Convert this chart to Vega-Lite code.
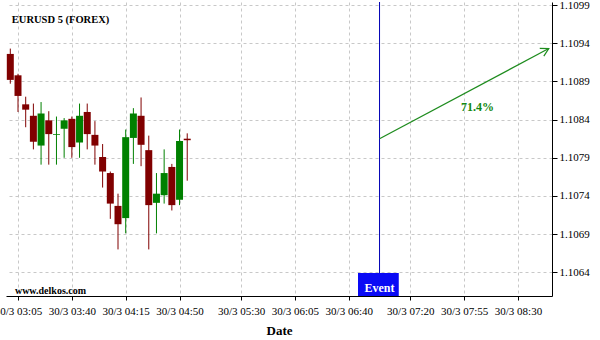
{
  "$schema": "https://vega.github.io/schema/vega-lite/v6.json",
  "width": 546,
  "height": 294,
  "autosize": {"type": "none"},
  "padding": {"left": 6, "top": 2, "right": 48, "bottom": 44},
  "background": "white",
  "config": {"view": {"stroke": null}, "font": "Liberation Serif"},
  "datasets": {
    "candles": [
      {"t": 180, "open": 1.10926, "high": 1.10933, "low": 1.10887, "close": 1.10892},
      {"t": 185, "open": 1.10898, "high": 1.10900, "low": 1.10850, "close": 1.10871},
      {"t": 190, "open": 1.10860, "high": 1.10870, "low": 1.10830, "close": 1.10853},
      {"t": 195, "open": 1.10845, "high": 1.10861, "low": 1.10801, "close": 1.10811},
      {"t": 200, "open": 1.10806, "high": 1.10863, "low": 1.10781, "close": 1.10848},
      {"t": 205, "open": 1.10839, "high": 1.10851, "low": 1.10781, "close": 1.10821},
      {"t": 210, "open": 1.10820, "high": 1.10844, "low": 1.10781, "close": 1.10821},
      {"t": 215, "open": 1.10828, "high": 1.10842, "low": 1.10790, "close": 1.10839},
      {"t": 220, "open": 1.10841, "high": 1.10844, "low": 1.10790, "close": 1.10804},
      {"t": 225, "open": 1.10810, "high": 1.10861, "low": 1.10790, "close": 1.10845},
      {"t": 230, "open": 1.10850, "high": 1.10861, "low": 1.10801, "close": 1.10821},
      {"t": 235, "open": 1.10820, "high": 1.10838, "low": 1.10781, "close": 1.10806},
      {"t": 240, "open": 1.10791, "high": 1.10808, "low": 1.10751, "close": 1.10772},
      {"t": 245, "open": 1.10770, "high": 1.10772, "low": 1.10710, "close": 1.10730},
      {"t": 250, "open": 1.10727, "high": 1.10743, "low": 1.10670, "close": 1.10703},
      {"t": 255, "open": 1.10711, "high": 1.10827, "low": 1.10691, "close": 1.10817},
      {"t": 260, "open": 1.10816, "high": 1.10855, "low": 1.10782, "close": 1.10848},
      {"t": 265, "open": 1.10845, "high": 1.10869, "low": 1.10779, "close": 1.10807},
      {"t": 270, "open": 1.10800, "high": 1.10819, "low": 1.10670, "close": 1.10728},
      {"t": 275, "open": 1.10731, "high": 1.10770, "low": 1.10691, "close": 1.10743},
      {"t": 280, "open": 1.10741, "high": 1.10801, "low": 1.10730, "close": 1.10770},
      {"t": 285, "open": 1.10778, "high": 1.10782, "low": 1.10721, "close": 1.10728},
      {"t": 290, "open": 1.10735, "high": 1.10827, "low": 1.10728, "close": 1.10812},
      {"t": 295, "open": 1.10815, "high": 1.10822, "low": 1.10760, "close": 1.10813}
    ],
    "event": [{"t": 420, "x1": 406, "x2": 432.5, "yb": 1.10609, "yt": 1.10639, "ym": 1.10619, "label": "Event"}],
    "arrow": [{"t1": 420, "p1": 1.10815, "t2": 530, "p2": 1.10933, "lt": 483.7, "lp": 1.10856, "label": "71.4%"}],
    "notes": [
      {"t": 181, "p": 1.10966, "label": "EURUSD 5 (FOREX)", "size": "big"},
      {"t": 183, "p": 1.10612, "label": "www.delkos.com", "size": "small"}
    ]
  },
  "layer": [
    {
      "data": {"name": "candles"},
      "mark": {"type": "rule", "strokeWidth": 1},
      "encoding": {
        "x": {
          "field": "t", "type": "quantitative", "title": "Date",
          "scale": {"domain": [177.2, 532.1], "nice": false, "zero": false, "padding": 0},
          "axis": {
            "values": [185, 220, 255, 290, 330, 365, 400, 440, 475, 510],
            "labelExpr": "'30/3 ' + (floor(datum.value/60) < 10 ? '0' : '') + floor(datum.value/60) + ':' + (datum.value % 60 < 10 ? '0' : '') + (datum.value % 60)",
            "grid": true, "gridDash": [3, 3], "gridColor": "#c8c8c8", "gridWidth": 1,
            "domainColor": "black", "tickColor": "black", "tickSize": 4,
            "labelFont": "Liberation Serif", "labelFontSize": 11, "labelColor": "black", "labelPadding": 5,
            "labelFlush": false, "labelOverlap": false,
            "titleFont": "Liberation Serif", "titleFontSize": 13, "titleFontWeight": "bold", "titleColor": "black", "titlePadding": 8
          }
        },
        "y": {
          "field": "low", "type": "quantitative", "title": null,
          "scale": {"domain": [1.10609, 1.10994], "nice": false, "zero": false, "padding": 0},
          "axis": {
            "orient": "right",
            "values": [1.1064, 1.1069, 1.1074, 1.1079, 1.1084, 1.1089, 1.1094, 1.1099],
            "format": ".4f",
            "grid": true, "gridDash": [3, 3], "gridColor": "#c8c8c8", "gridWidth": 1,
            "domainColor": "black", "tickColor": "black", "tickSize": 5,
            "labelFont": "Liberation Serif", "labelFontSize": 11, "labelColor": "black", "labelPadding": 2
          }
        },
        "y2": {"field": "high"},
        "color": {"condition": {"test": "datum.close < datum.open", "value": "#800000"}, "value": "#008000"}
      }
    },
    {
      "data": {"name": "candles"},
      "mark": {"type": "bar", "size": 7},
      "encoding": {
        "x": {"field": "t", "type": "quantitative", "title": "Date"},
        "y": {"field": "open", "type": "quantitative", "title": null},
        "y2": {"field": "close"},
        "color": {"condition": {"test": "datum.close < datum.open", "value": "#800000"}, "value": "#008000"}
      }
    },
    {
      "data": {"name": "event"},
      "mark": {"type": "rule", "color": "#0000b4", "strokeWidth": 1},
      "encoding": {
        "x": {"field": "t", "type": "quantitative", "title": "Date"}
      }
    },
    {
      "data": {"name": "event"},
      "mark": {"type": "rect", "color": "#0a0af5"},
      "encoding": {
        "x": {"field": "x1", "type": "quantitative", "title": "Date"},
        "x2": {"field": "x2"},
        "y": {"field": "yb", "type": "quantitative", "title": null},
        "y2": {"field": "yt"}
      }
    },
    {
      "data": {"name": "event"},
      "mark": {"type": "text", "color": "white", "font": "Liberation Serif", "fontSize": 12, "fontWeight": "bold", "align": "center", "baseline": "middle"},
      "encoding": {
        "x": {"field": "t", "type": "quantitative", "title": "Date"},
        "y": {"field": "ym", "type": "quantitative", "title": null},
        "text": {"field": "label"}
      }
    },
    {
      "data": {"name": "arrow"},
      "mark": {"type": "rule", "color": "#1e8c1e", "strokeWidth": 1.2},
      "encoding": {
        "x": {"field": "t1", "type": "quantitative", "title": "Date"},
        "x2": {"field": "t2"},
        "y": {"field": "p1", "type": "quantitative", "title": null},
        "y2": {"field": "p2"}
      }
    },
    {
      "data": {"name": "arrow"},
      "mark": {"type": "point", "shape": "M -1 -0.55 L 0 0 L -1 0.55", "filled": false, "color": "#1e8c1e", "strokeWidth": 1.2, "size": 250, "angle": 332, "opacity": 1},
      "encoding": {
        "x": {"field": "t2", "type": "quantitative", "title": "Date"},
        "y": {"field": "p2", "type": "quantitative", "title": null}
      }
    },
    {
      "data": {"name": "arrow"},
      "mark": {"type": "text", "color": "#118811", "font": "Liberation Serif", "fontSize": 12, "fontWeight": "bold", "align": "center", "baseline": "middle"},
      "encoding": {
        "x": {"field": "lt", "type": "quantitative", "title": "Date"},
        "y": {"field": "lp", "type": "quantitative", "title": null},
        "text": {"field": "label"}
      }
    },
    {
      "data": {"name": "notes"},
      "mark": {"type": "text", "color": "black", "font": "Liberation Serif", "fontWeight": "bold", "align": "left", "baseline": "alphabetic"},
      "encoding": {
        "x": {"field": "t", "type": "quantitative", "title": "Date"},
        "y": {"field": "p", "type": "quantitative", "title": null},
        "text": {"field": "label"},
        "size": {"field": "size", "type": "nominal", "scale": {"domain": ["big", "small"], "range": [10.5, 10]}, "legend": null}
      }
    }
  ]
}
